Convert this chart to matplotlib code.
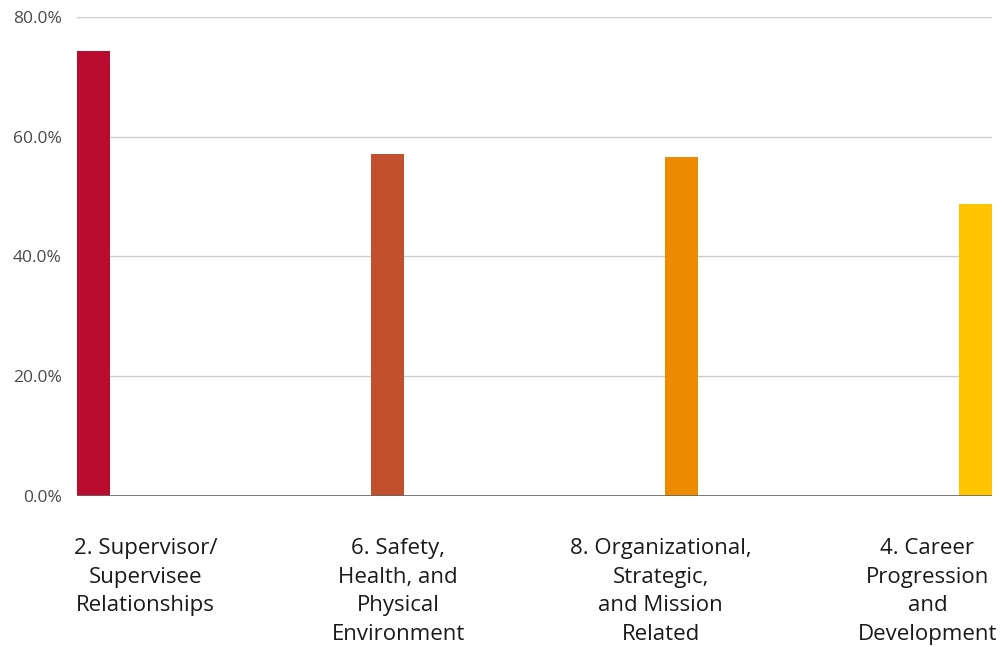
import numpy as np
import matplotlib.pyplot as plt
from matplotlib.transforms import blended_transform_factory

# data
categories = ["2. Supervisor/\nSupervisee\nRelationships",
              "6. Safety,\nHealth, and\nPhysical\nEnvironment",
              "8. Organizational,\nStrategic,\nand Mission\nRelated",
              "4. Career\nProgression\nand\nDevelopment"]
values = [74.2, 57.0, 56.6, 48.7]
colors = ["#BA0C2F", "#C1502E", "#ED8B00", "#FFC600"]
yticks = [0, 20, 40, 60, 80]

plt.rcParams['font.family'] = ['Open Sans', 'DejaVu Sans']

fig = plt.figure(figsize=(10.03, 6.47), dpi=100)
W, H = 1003, 647
ax = fig.add_axes([77 / W, 1 - 496 / H, (992 - 77) / W, (496 - 16.7) / H])

x = np.arange(len(values))
bw = 0.114
ax.bar(x, values, width=bw, align='edge', color=colors, zorder=3)

ax.set_xlim(0, x[-1] + bw)
ax.set_ylim(0, 80)
ax.set_yticks(yticks)
ax.set_yticklabels([f"{v:.1f}%" for v in yticks], fontsize=12.5, color="#4a4a4a")
ax.tick_params(axis='y', length=0, pad=11)
ax.set_xticks([])
ax.grid(axis='y', color='#cccccc', linewidth=1, zorder=0)
for s in ax.spines.values():
    s.set_visible(False)
ax.axhline(0, color='#666666', linewidth=1.2, zorder=4)

# category labels sit below the axis, spread across the width
label_x = [0.233, 1.093, 1.986, 2.894]
trans = blended_transform_factory(ax.transData, fig.transFigure)
for lx, lab in zip(label_x, categories):
    ax.text(lx, 1 - 538 / H, lab, transform=trans, ha='center', va='top',
            fontsize=16, color='#1a1a1a', linespacing=1.47)

fig.savefig("out.png", dpi=100)
